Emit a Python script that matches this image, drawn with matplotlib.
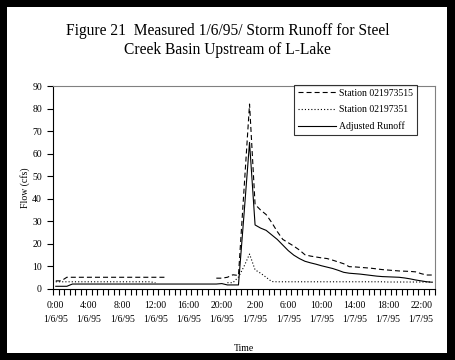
import matplotlib
matplotlib.use("Agg")
import matplotlib.pyplot as plt
from matplotlib.patches import Rectangle
import numpy as np

nan = np.nan

# category labels shown on the x axis (every 6th sample)
tick_labels = ["0:00\n1/6/95", "4:00\n1/6/95", "8:00\n1/6/95", "12:00\n1/6/95",
               "16:00\n1/6/95", "20:00\n1/6/95", "2:00\n1/7/95", "6:00\n1/7/95",
               "10:00\n1/7/95", "14:00\n1/7/95", "18:00\n1/7/95", "22:00\n1/7/95"]

# Station 021973515 (cfs), one value per sample
station_515 = [3.6, 3.6] + [5.2] * 19 + [nan] * 8 + [
    4.8, 4.8, 5.2, 6.3, 6.0, 44, 82, 37.5, 35, 33, 29.5, 25.5, 22, 20.5, 19,
    17.3, 15.2, 14.6, 14.2, 13.8, 13.5, 12.8, 12, 11.2, 9.9, 9.8, 9.6, 9.4,
    9.2, 8.9, 8.6, 8.4, 8.2, 8.0, 7.9, 7.8, 7.6, 6.8, 6.2, 6.2]

# Station 02197351 (cfs)
station_351 = [3.2] * 18 + [2.8] + [nan] * 12 + [
    2.8, 2.8, 5.3, 10, 15.5, 8.5, 7, 5.2, 3.3] + [3.2] * 20 + [3.1] * 9

# Adjusted runoff (cfs)
adjusted = [1.2] * 3 + [2.2] * 27 + [
    2.4, 1.8, 1.8, 1.8, 33, 65, 28.4, 27, 26, 24, 22, 19.5, 17, 15, 13.5, 12.3,
    11.6, 11, 10.3, 9.7, 9.1, 8.3, 7.4, 7.0, 6.8, 6.6, 6.3, 6.0, 5.7, 5.5,
    5.4, 5.3, 5.2, 4.9, 4.5, 4.0, 3.6, 3.2, 3.0]


def main():
    plt.rcParams['font.family'] = ['Liberation Serif', 'DejaVu Serif']
    plt.rcParams['lines.scale_dashes'] = False

    n = len(adjusted)
    x = np.arange(n)

    fig = plt.figure(figsize=(4.55, 3.6), dpi=100)
    fig.patch.set_facecolor('black')
    fig.patches.append(Rectangle((7 / 455, 7 / 360), 440 / 455, 346 / 360,
                                 transform=fig.transFigure, facecolor='white',
                                 edgecolor='none', zorder=-10))

    ax = fig.add_axes([53 / 455, 71 / 360, 382 / 455, 203 / 360])

    ax.plot(x, station_515, color='black', lw=0.8, dashes=(3.6, 2.2),
            label='Station 021973515')
    ax.plot(x, station_351, color='black', lw=0.8, dashes=(0.8, 1.5),
            label='Station 02197351')
    ax.plot(x, adjusted, color='black', lw=0.8, label='Adjusted Runoff')

    ax.set_xlim(-0.5, n - 0.5)
    ax.set_ylim(0, 90)
    ax.set_yticks(np.arange(0, 91, 10))
    ax.set_xticks(np.arange(0, n, 6)[:len(tick_labels)])
    ax.set_xticklabels(tick_labels, fontsize=7, linespacing=1.7)
    ax.set_xticks(np.arange(-0.5, n, 1), minor=True)
    ax.tick_params(axis='x', which='major', length=0, pad=9)
    ax.tick_params(axis='x', which='minor', length=4, width=0.8, direction='out')
    ax.tick_params(axis='y', length=4, width=0.8, direction='out', labelsize=7, pad=4)

    for side in ('top', 'right'):
        ax.spines[side].set_color('#808080')
        ax.spines[side].set_linewidth(0.8)
    for side in ('left', 'bottom'):
        ax.spines[side].set_linewidth(0.8)

    ax.set_ylabel('Flow (cfs)', fontsize=7, labelpad=1.5)
    ax.set_xlabel('Time', fontsize=7, labelpad=14)

    leg = ax.legend(loc='upper right', bbox_to_anchor=(364 / 382, 1.005),
                    borderaxespad=0, fontsize=7, frameon=True, fancybox=False,
                    handlelength=3.9, labelspacing=0.75, handletextpad=0.3,
                    borderpad=0.4)
    leg.get_frame().set_edgecolor('black')
    leg.get_frame().set_linewidth(0.8)

    fig.text(0.5, 1 - 31 / 360, 'Figure 21  Measured 1/6/95/ Storm Runoff for Steel',
             ha='center', va='center', fontsize=11.2)
    fig.text(0.5, 1 - 50 / 360, 'Creek Basin Upstream of L-Lake',
             ha='center', va='center', fontsize=11.2)

    fig.savefig('out.png', dpi=100, facecolor=fig.get_facecolor())


if __name__ == '__main__':
    main()
